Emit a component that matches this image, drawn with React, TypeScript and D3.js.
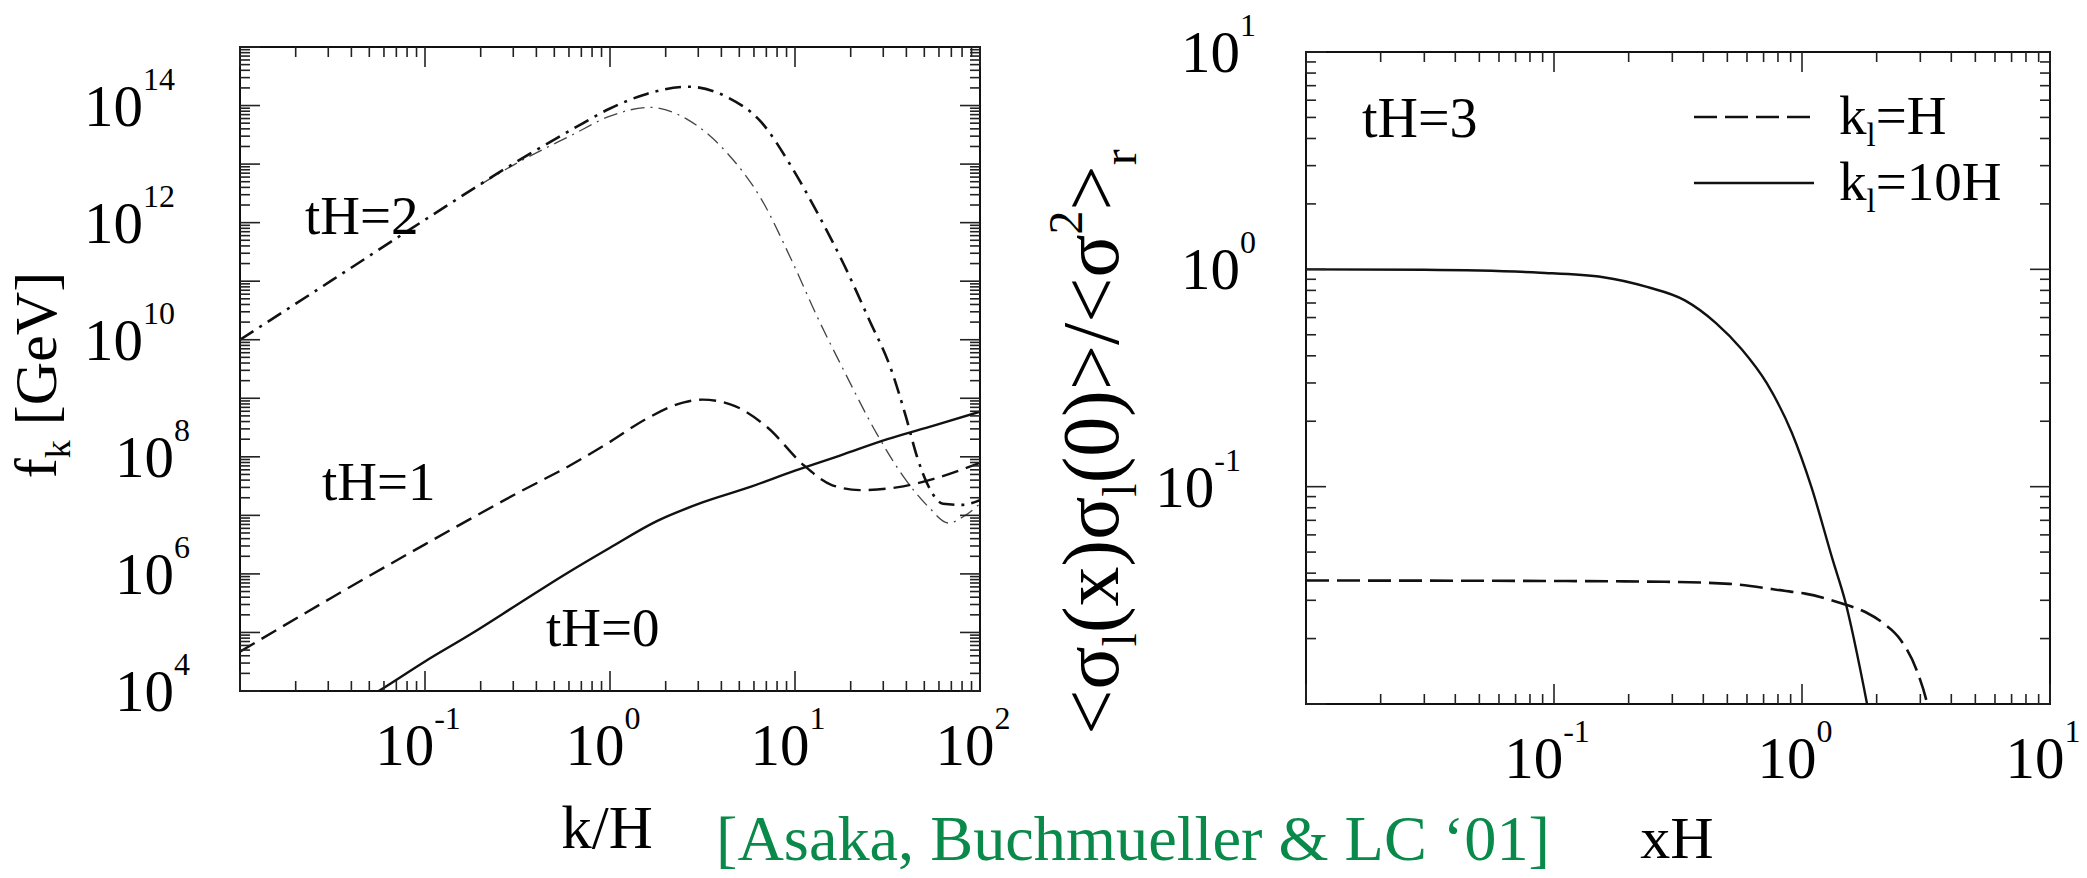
import React from 'react';
import * as d3 from 'd3';

const FONT = '"Liberation Serif", "Times New Roman", Times, serif';

// ---------- Left panel: f_k [GeV] vs k/H ----------
const leftXExps = ['-1', '0', '1', '2'];
const leftYExps = ['4', '6', '8', '10', '12', '14'];

const tH0K = [0.05, 0.0562, 0.1, 0.178, 0.316, 0.562, 1, 1.78, 3.16, 5.62, 10, 17.8, 31.6, 56.2, 100];
const tH0F = [8e3, 1e4, 3.2e4, 9.5e4, 3.0e5, 9.5e5, 2.8e6, 7.9e6, 1.66e7, 3.0e7, 5.8e7, 1.07e8, 2.0e8, 3.4e8, 5.9e8];

const tH1K = [0.01, 0.0316, 0.1, 0.316, 0.631, 1, 1.58, 2.51, 3.16, 4.47, 7.08, 11.2, 15.8, 22.4, 35.5, 56.2, 100];
const tH1F = [4.7e4, 4.0e5, 3.2e6, 2.4e7, 7.6e7, 1.8e8, 4.5e8, 8.5e8, 9.5e8, 7.9e8, 3.2e8, 7.1e7, 3.3e7, 2.7e7, 3.0e7, 4.2e7, 7.9e7];

const tH2K = [0.01, 0.0316, 0.1, 0.316, 0.631, 1, 1.58, 2.63, 4.27, 6.61, 9.55, 13.2, 18.6, 25.1, 33.1, 39.8, 45.7, 52.5, 63.1, 79.4, 100];
const tH2F = [1e10, 1.05e11, 1.12e12, 1.12e13, 4.0e13, 8.9e13, 1.58e14, 2.1e14, 1.41e14, 5.1e13, 9.1e12, 1.48e12, 1.78e11, 2.24e10, 3.1e9, 4.8e8, 1.0e8, 3.2e7, 1.58e7, 1.51e7, 1.82e7];

const tH2thinK = [0.2, 0.316, 0.631, 1, 1.64, 2.63, 4.27, 6.61, 9.55, 13.2, 18.6, 27.5, 39.8, 52.5, 67.6, 83.2, 100];
const tH2thinF = [4.5e12, 1.05e13, 3.2e13, 6.6e13, 9.3e13, 5.75e13, 1.58e13, 2.45e12, 2.34e11, 2.45e10, 2.75e9, 2.57e8, 4.0e7, 1.41e7, 7.4e6, 1.0e7, 1.58e7];

// ---------- Right panel: correlation vs xH ----------
const rightXExps = ['-1', '0', '1'];
const rightYExps = ['-1', '0', '1'];

const k10HX = [0.01, 0.03, 0.088, 0.158, 0.237, 0.337, 0.45, 0.57, 0.72, 0.91, 1.09, 1.33, 1.49, 1.83, 1.9];
const k10HY = [1.0, 0.995, 0.965, 0.92, 0.83, 0.72, 0.566, 0.43, 0.30, 0.177, 0.1, 0.046, 0.030, 0.01, 0.008];

const kHX = [0.01, 0.1, 0.28, 0.51, 0.91, 1.03, 1.45, 1.8, 2.12, 2.5, 2.9, 3.2, 3.3];
const kHY = [0.037, 0.0368, 0.0365, 0.0357, 0.0328, 0.0322, 0.029, 0.0265, 0.0236, 0.0197, 0.0143, 0.010, 0.0085];

type Scale = d3.ScaleLogarithmic<number, number>;

function logTicks(lo: number, hi: number) {
  const e0 = Math.round(Math.log10(lo));
  const e1 = Math.round(Math.log10(hi));
  const out: { v: number; major: boolean }[] = [];
  for (let e = e0; e < e1; e++) {
    for (let m = 1; m <= 9; m++) out.push({ v: m * Math.pow(10, e), major: m === 1 });
  }
  out.push({ v: Math.pow(10, e1), major: true });
  return out;
}

function Frame({ x, y, xExps, yExps, id }: { x: Scale; y: Scale; xExps: string[]; yExps: string[]; id: string }) {
  const [x0, x1] = x.range();
  const [y0, y1] = y.range(); // y0 bottom, y1 top
  const xd = x.domain();
  const yd = y.domain();
  const xt = logTicks(xd[0], xd[1]);
  const yt = logTicks(yd[0], yd[1]);
  const major = 20, minor = 10;
  return (
    <g>
      <rect x={x0} y={y1} width={x1 - x0} height={y0 - y1} fill="none" stroke="#111" strokeWidth={2} />
      {xt.map((t, i) => {
        const px = x(t.v);
        const L = t.major ? major : minor;
        return (
          <g key={`${id}x${i}`} stroke="#222" strokeWidth={1.6}>
            <line x1={px} x2={px} y1={y0} y2={y0 - L} />
            <line x1={px} x2={px} y1={y1} y2={y1 + L} />
          </g>
        );
      })}
      {yt.map((t, i) => {
        const py = y(t.v);
        const L = t.major ? major : minor;
        return (
          <g key={`${id}y${i}`} stroke="#222" strokeWidth={1.6}>
            <line x1={x0} x2={x0 + L} y1={py} y2={py} />
            <line x1={x1} x2={x1 - L} y1={py} y2={py} />
          </g>
        );
      })}
      {xExps.map((e) => (
        <text key={`${id}xl${e}`} x={x(Math.pow(10, +e)) - 7} y={y0 + 74} textAnchor="middle" fontSize={59} fontFamily={FONT}>
          10<tspan fontSize={32} dy={-36}>{e}</tspan>
        </text>
      ))}
      {yExps.map((e) => (
        <text key={`${id}yl${e}`} x={x0 - 50 - 15 * (e.length - 1)} y={y(Math.pow(10, +e)) + 20} textAnchor="end" fontSize={59} fontFamily={FONT}>
          10<tspan fontSize={32} dy={-36}>{e}</tspan>
        </text>
      ))}
    </g>
  );
}

export default function App() {
  const xL = d3.scaleLog().domain([1e-2, 1e2]).range([240, 980]);
  const yL = d3.scaleLog().domain([1e4, 1e15]).range([691, 47]);
  const xR = d3.scaleLog().domain([1e-2, 1e1]).range([1306, 2050]);
  const yR = d3.scaleLog().domain([1e-2, 1e1]).range([704, 52]);

  const lineL = (ks: number[], fs: number[]) =>
    d3.line<number>().x((_, i) => xL(ks[i])).y((_, i) => yL(fs[i])).curve(d3.curveMonotoneX)(ks) || '';
  const lineR = (xs: number[], ys: number[]) =>
    d3.line<number>().x((_, i) => xR(xs[i])).y((_, i) => yR(ys[i])).curve(d3.curveMonotoneX)(xs) || '';

  return (
    <svg width={2087} height={878} style={{ position: 'absolute', left: 0, top: 0, background: '#fff' }} fontFamily={FONT}>
      <defs>
        <clipPath id="clipL"><rect x={240} y={47} width={740} height={644} /></clipPath>
        <clipPath id="clipR"><rect x={1306} y={52} width={744} height={652} /></clipPath>
      </defs>
      <rect x={0} y={0} width={2087} height={878} fill="#fff" />

      {/* Left panel */}
      <g clipPath="url(#clipL)" fill="none">
        <path d={lineL(tH0K, tH0F)} stroke="#111" strokeWidth={2.4} />
        <path d={lineL(tH1K, tH1F)} stroke="#111" strokeWidth={2.4} strokeDasharray="17,8" />
        <path d={lineL(tH2thinK, tH2thinF)} stroke="#444" strokeWidth={1.3} strokeDasharray="14,6,2,6" />
        <path d={lineL(tH2K, tH2F)} stroke="#111" strokeWidth={2.6} strokeDasharray="16,7,3,7" />
      </g>
      <Frame x={xL} y={yL} xExps={leftXExps} yExps={leftYExps} id="L" />
      <text x={305} y={234} fontSize={55}>tH=2</text>
      <text x={322} y={500} fontSize={55}>tH=1</text>
      <text x={546} y={646} fontSize={55}>tH=0</text>
      <text x={607} y={848} fontSize={61} textAnchor="middle">k/H</text>
      <text transform="translate(56,375) rotate(-90)" fontSize={60} textAnchor="middle">
        f<tspan fontSize={36} dy={14}>k</tspan><tspan dy={-14}> [GeV]</tspan>
      </text>

      {/* Right panel */}
      <g clipPath="url(#clipR)" fill="none">
        <path d={lineR(kHX, kHY)} stroke="#111" strokeWidth={2.6} strokeDasharray="23,8" />
        <path d={lineR(k10HX, k10HY)} stroke="#111" strokeWidth={2.4} />
      </g>
      <Frame x={xR} y={yR} xExps={rightXExps} yExps={rightYExps} id="R" />
      <text x={1362} y={137} fontSize={56}>tH=3</text>
      <line x1={1694} x2={1811} y1={117} y2={117} stroke="#111" strokeWidth={2.6} strokeDasharray="23,8" />
      <line x1={1694} x2={1814} y1={183} y2={183} stroke="#111" strokeWidth={2.4} />
      <text x={1839} y={134} fontSize={55}>
        k<tspan fontSize={33} dy={12}>l</tspan><tspan dy={-12}>=H</tspan>
      </text>
      <text x={1839} y={200} fontSize={55}>
        k<tspan fontSize={33} dy={12}>l</tspan><tspan dy={-12}>=10H</tspan>
      </text>
      <text x={1677} y={858} fontSize={60} textAnchor="middle">xH</text>
      <text transform="translate(1118,442) rotate(-90)" fontSize={80} textAnchor="middle">
        &lt;σ<tspan fontSize={48} dy={18}>l</tspan><tspan dy={-18}>(x)σ</tspan><tspan fontSize={48} dy={18}>l</tspan><tspan dy={-18}>(0)&gt;/&lt;σ</tspan><tspan fontSize={48} dy={-36}>2</tspan><tspan dy={36}>&gt;</tspan><tspan fontSize={48} dy={18}>r</tspan>
      </text>

      {/* Citation */}
      <text x={716} y={860} fontSize={64} fill="#0a8a4a" textLength={834} lengthAdjust="spacingAndGlyphs">
        [Asaka, Buchmueller &amp; LC ‘01]
      </text>
    </svg>
  );
}
